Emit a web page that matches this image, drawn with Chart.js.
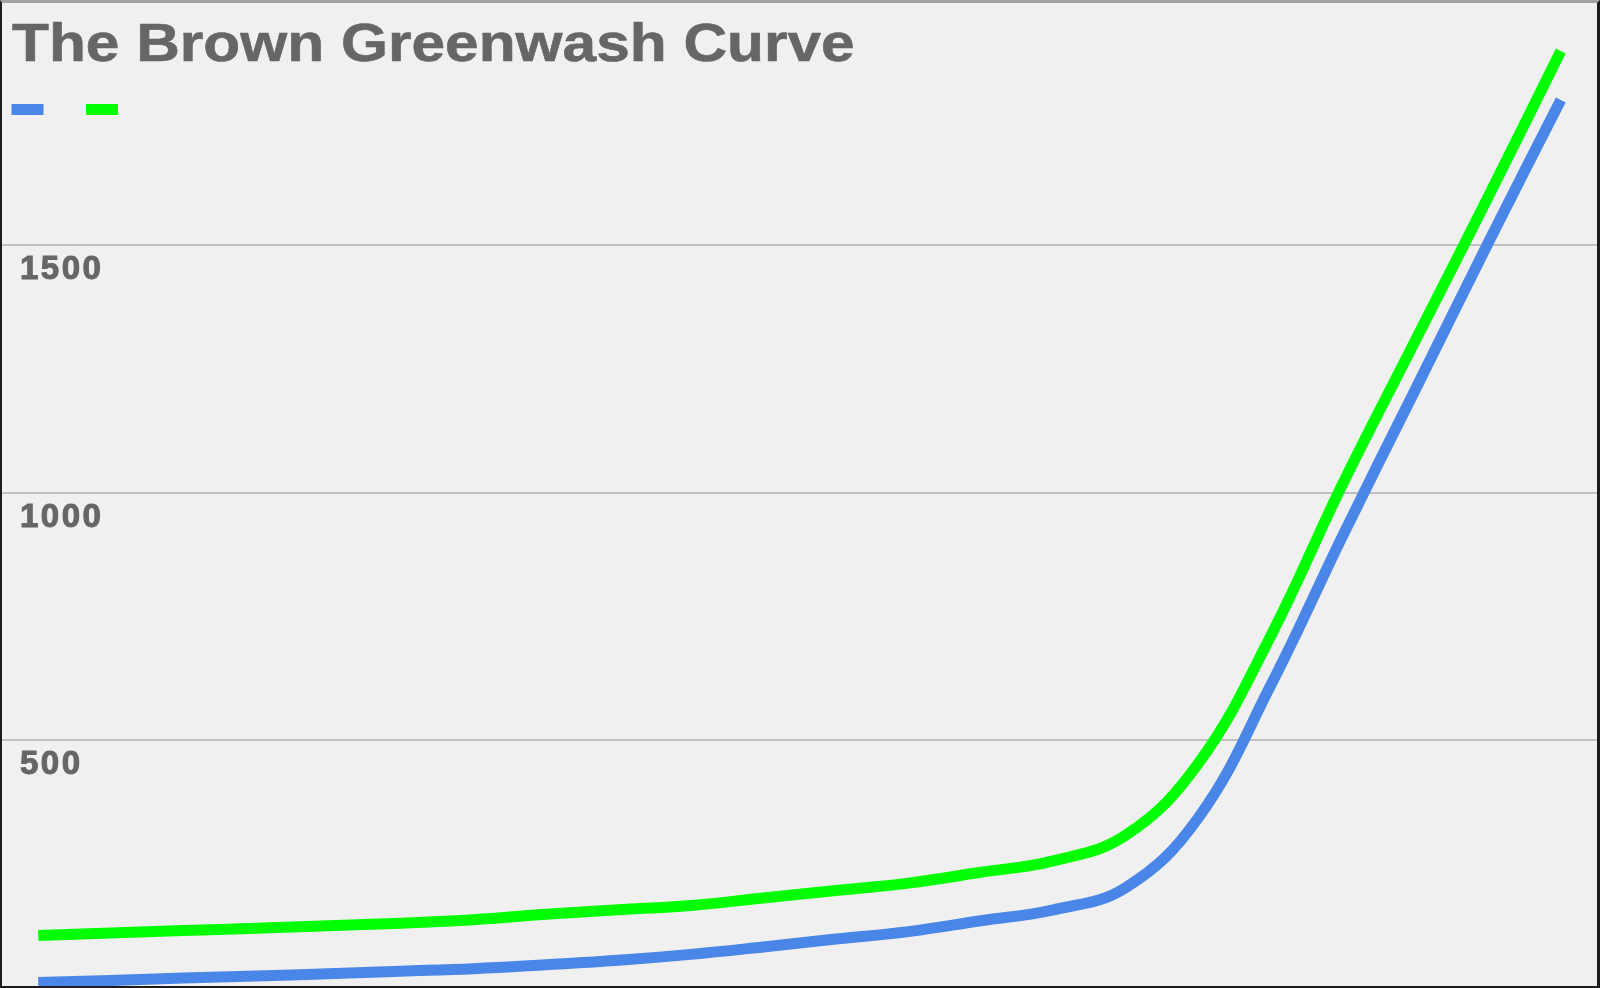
<!DOCTYPE html>
<html>
<head>
<meta charset="utf-8">
<title>The Brown Greenwash Curve</title>
<script src="https://cdn.jsdelivr.net/npm/chart.js@4.4.1/dist/chart.umd.min.js"></script>
<style>
    html, body {
        margin: 0;
        padding: 0;
        background: #f0f0f0;
        overflow: hidden;
    }

    #frame {
        position: relative;
        width: 1600px;
        height: 988px;
        box-sizing: border-box;
        border-top: 3px solid #a3a3a3;
        border-left: 2px solid #1c1c1c;
        border-right: 3px solid #1c1c1c;
        border-bottom: 2px solid #1c1c1c;
        background: #f0f0f0;
    }

    #chart {
        display: block;
    }
</style>
</head>
<body>
<div id="frame"><canvas id="chart" width="1595" height="983"></canvas></div>
<script>
var title_text = "The Brown Greenwash Curve";

var categories = ["1", "2", "3", "4", "5", "6", "7", "8", "9", "10", "11",
                  "12", "13", "14", "15", "16", "17", "18", "19", "20", "21", "22"];

var series_names = ["", ""];

var blue_values = [9, 13, 18, 22, 27, 32, 37, 45, 54, 66, 81,
                   97, 112, 134, 156, 201, 342, 610, 915, 1210, 1505, 1794];

var green_values = [104, 109, 114, 119, 124, 129, 136, 147, 156, 165, 180,
                    195, 210, 232, 255, 307, 452, 710, 1020, 1309, 1598, 1893];

var y_ticks = [500, 1000, 1500];

var blue_color = "#4a86e8";
var green_color = "#00ff00";
var text_color = "#666666";
var grid_color = "#c0c0c0";

// Title and the label-less legend swatches sit inside the plot, so they are drawn here
var header_plugin = {
    id: "header",

    beforeDraw: function (chart) {
        // The reference lettering is wide, a bit of spacing gets the tick labels there
        chart.ctx.letterSpacing = "2.5px";
    },

    afterDraw: function (chart) {
        var ctx = chart.ctx;

        ctx.save();
        ctx.letterSpacing = "0px";
        ctx.fillStyle = text_color;
        ctx.strokeStyle = text_color;
        ctx.lineWidth = 0.6;
        ctx.lineJoin = "round";
        ctx.font = "bold 53px 'Liberation Sans', Arial, sans-serif";
        ctx.textBaseline = "alphabetic";
        ctx.textAlign = "left";
        ctx.translate(10, 58);
        ctx.scale(1.14, 1);
        ctx.fillText(title_text, 0, 0);
        ctx.strokeText(title_text, 0, 0);
        ctx.restore();

        ctx.save();

        for (var i = 0; i < chart.data.datasets.length; i++) {
            ctx.fillStyle = chart.data.datasets[i].borderColor;
            ctx.fillRect(9.5 + i * 74.5, 101, 32, 11);
        }

        ctx.restore();
    }
};

var line_dataset = function (name, values, color) {
    return {
        "label": name,
        "data": values,
        "borderColor": color,
        "backgroundColor": color,
        "borderWidth": 11,
        "borderJoinStyle": "round",
        "pointRadius": 0,
        "pointHoverRadius": 0,
        "tension": 0.4,
        "fill": false
    };
};

new Chart(document.getElementById("chart").getContext("2d"), {
    "type": "line",
    "data": {
        "labels": categories,
        "datasets": [
            line_dataset(series_names[0], blue_values, blue_color),
            line_dataset(series_names[1], green_values, green_color)
        ]
    },
    "options": {
        "responsive": false,
        "animation": false,
        "devicePixelRatio": 1,
        "events": [],
        "layout": {
            "padding": 0,
            "autoPadding": false
        },
        "scales": {
            "x": {
                "type": "category",
                "offset": true,
                "display": false
            },
            "y": {
                "min": 2,
                "max": 1990,
                "afterBuildTicks": function (axis) {
                    axis.ticks = y_ticks.map(function (v) { return {"value": v}; });
                },
                "afterFit": function (axis) {
                    // mirrored labels: the axis itself takes no room
                    axis.width = 0;
                    axis.paddingTop = 0;
                    axis.paddingBottom = 0;
                },
                "grid": {
                    "color": grid_color,
                    "lineWidth": 2,
                    "drawTicks": false
                },
                "border": {
                    "display": false
                },
                "ticks": {
                    "mirror": true,
                    "padding": 18,
                    "labelOffset": 25,
                    "color": text_color,
                    "textStrokeColor": text_color,
                    "textStrokeWidth": 1,
                    "font": {
                        "family": "'Liberation Sans', Arial, sans-serif",
                        "weight": "bold",
                        "size": 33
                    },
                    "callback": function (value) {
                        return String(value);
                    }
                }
            }
        },
        "plugins": {
            "legend": {
                "display": false
            },
            "tooltip": {
                "enabled": false
            },
            "title": {
                "display": false
            }
        }
    },
    "plugins": [header_plugin]
});
</script>
</body>
</html>
